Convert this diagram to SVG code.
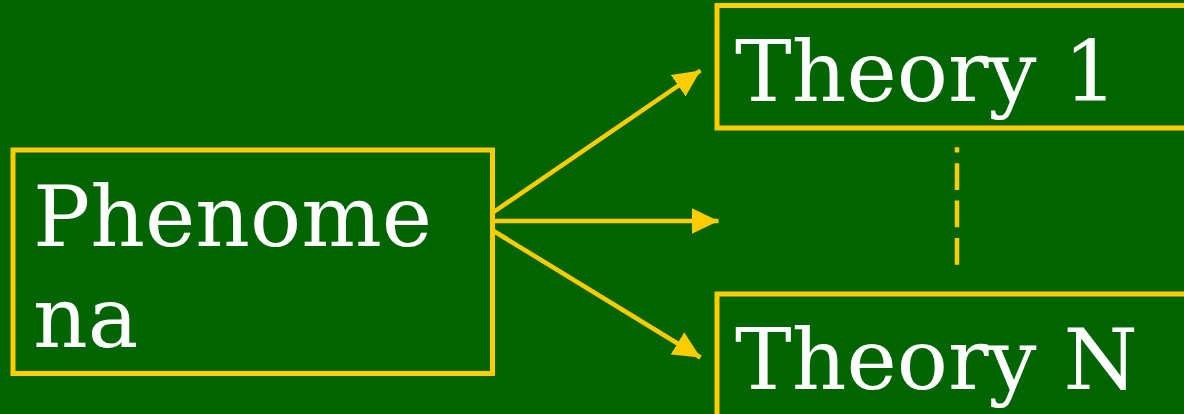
<svg xmlns="http://www.w3.org/2000/svg" width="1184" height="414" viewBox="0 0 1184 414">
<style>
.box{fill:#006400;stroke:#FFCC00;stroke-width:5}
.lbl{font-family:"DejaVu Serif",serif;font-size:85px;fill:#FFFFFF}
.conn{stroke:#FFCC00;stroke-width:4.5;fill:none}
</style>
<defs>
<marker id="ah" markerUnits="userSpaceOnUse" markerWidth="28" markerHeight="26" refX="27" refY="13" orient="auto">
<path d="M0,0 L27,13 L0,26 Z" fill="#FFCC00"/>
</marker>
</defs>
<rect width="1184" height="414" fill="#006400"/>
<g id="phenomena">
<rect class="box" x="13" y="150" width="479.5" height="223.5"/>
<text class="lbl" x="33" y="246">Phenome</text>
<text class="lbl" x="33" y="347">na</text>
</g>
<g id="theory1">
<rect class="box" x="717" y="5.5" width="480" height="122.5"/>
<text class="lbl" x="735" y="100.5">Theory 1</text>
</g>
<g id="theoryN">
<rect class="box" x="717" y="294" width="480" height="130"/>
<text class="lbl" x="735" y="389">Theory N</text>
</g>
<g id="connectors">
<line class="conn" x1="491.5" y1="213.5" x2="700.5" y2="70.5" marker-end="url(#ah)"/>
<line class="conn" x1="492" y1="221" x2="718.5" y2="221" marker-end="url(#ah)"/>
<line class="conn" x1="492" y1="230" x2="700.5" y2="357.5" marker-end="url(#ah)"/>
<line class="conn" x1="957" y1="264.7" x2="957" y2="147.3" stroke-dasharray="26.7 10.7"/>
</g>
</svg>
